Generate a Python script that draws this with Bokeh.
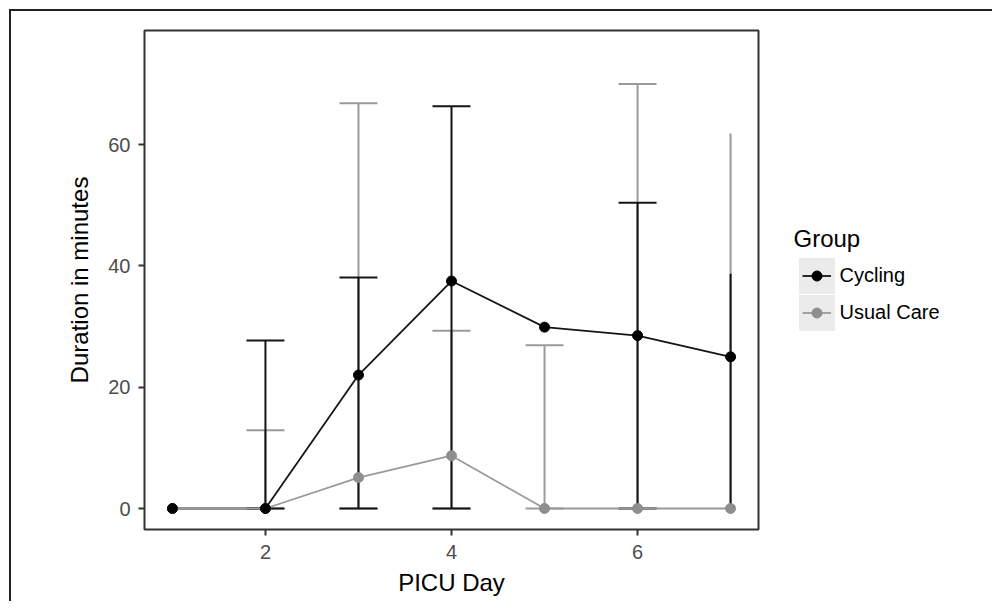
from bokeh.plotting import figure
from bokeh.layouts import row
from bokeh.models import (ColumnDataSource, Whisker, TeeHead, Legend, LegendItem,
                          FixedTicker)
from bokeh.embed import file_html
from bokeh.resources import INLINE

# ---- data ----
days = [1, 2, 3, 4, 5, 6, 7]
cycling_mean = [0, 0, 22.0, 37.5, 29.9, 28.5, 25.0]
cycling_lower = [0, 0, 0, 0, 29.9, 0, 0]
cycling_upper = [0, 27.7, 38.1, 66.3, 29.9, 50.4, 38.7]
usual_mean = [0, 0, 5.1, 8.7, 0, 0, 0]
usual_lower = [0, 0, 0, 0, 0, 0, 0]
usual_upper = [0, 12.9, 66.8, 29.3, 26.9, 70.0, 61.8]
uncapped_days = [7]
groups = ["Cycling", "Usual Care"]
x_ticks = [2, 4, 6]
y_ticks = [0, 20, 40, 60]

CYC = "#151515"
UC = "#9a9a9a"
UC_PT = "#8e8e8e"
KEY_BG = "#ebebeb"
FONT = "Liberation Sans"
H = 590

p = figure(width=759, height=H, x_range=(0.7, 7.3), y_range=(-3.46, 78.8),
           output_backend="svg", toolbar_location=None,
           min_border_left=133, min_border_right=12, min_border_top=19, min_border_bottom=72)
p.xgrid.visible = False
p.ygrid.visible = False
p.outline_line_color = "#333333"
p.outline_line_width = 2
p.background_fill_color = "white"
p.border_fill_color = "white"

p.xaxis.ticker = FixedTicker(ticks=x_ticks)
p.yaxis.ticker = FixedTicker(ticks=y_ticks)
for ax in (p.xaxis[0], p.yaxis[0]):
    ax.axis_line_color = None
    ax.major_tick_line_color = "#333333"
    ax.major_tick_line_width = 2
    ax.major_tick_in = 0
    ax.major_tick_out = 6
    ax.minor_tick_line_color = None
    ax.major_label_text_font = FONT
    ax.major_label_text_font_size = "20px"
    ax.major_label_text_color = "#4d4d4d"
    ax.major_label_standoff = 8
    ax.axis_label_text_font = FONT
    ax.axis_label_text_font_size = "24px"
    ax.axis_label_text_font_style = "normal"
    ax.axis_label_text_color = "#000000"
p.xaxis.axis_label = "PICU Day"
p.yaxis.axis_label = "Duration in minutes"
p.xaxis.major_label_standoff = 9
p.xaxis.axis_label_standoff = 7
p.yaxis.axis_label_standoff = 12


def add_whiskers(lower, upper, color, capped):
    d, lo, hi = [], [], []
    for day, l, h in zip(days, lower, upper):
        if h > l and ((day not in uncapped_days) == capped):
            d.append(day); lo.append(l); hi.append(h)
    if not d:
        return
    src = ColumnDataSource(dict(day=d, lo=lo, hi=hi))
    if capped:
        heads = dict(upper_head=TeeHead(size=38, line_color=color, line_width=2),
                     lower_head=TeeHead(size=38, line_color=color, line_width=2))
    else:
        heads = dict(upper_head=None, lower_head=None)
    p.add_layout(Whisker(source=src, base="day", lower="lo", upper="hi",
                         line_color=color, line_width=2, **heads))


add_whiskers(usual_lower, usual_upper, UC, True)
add_whiskers(usual_lower, usual_upper, UC, False)
add_whiskers(cycling_lower, cycling_upper, CYC, True)
add_whiskers(cycling_lower, cycling_upper, CYC, False)

p.line(days, cycling_mean, line_color=CYC, line_width=1.8)
p.line(days, usual_mean, line_color=UC, line_width=1.8)
p.scatter(days, usual_mean, size=10, fill_color=UC_PT, line_color=UC_PT)
p.scatter(days, cycling_mean, size=10, fill_color="#000000", line_color="#000000")

# ---- legend panel (separate canvas so that it is not clipped) ----
lf = figure(width=222, height=H, x_range=(0, 1), y_range=(0, 1),
            output_backend="svg", toolbar_location=None,
            x_axis_location=None, y_axis_location=None,
            min_border_left=0, min_border_right=0, min_border_top=0, min_border_bottom=0)
lf.outline_line_color = None
lf.xgrid.visible = False
lf.ygrid.visible = False
lf.background_fill_color = "white"
lf.border_fill_color = "white"

# hidden renderers: only their legend swatches are shown
k_bg = lf.quad(left=days[:1], right=days[:1], top=usual_mean[:1], bottom=usual_mean[:1],
               fill_color=KEY_BG, line_color=None)
k_lc = lf.line(days, cycling_mean, line_color=CYC, line_width=1.8)
k_sc = lf.scatter(days, cycling_mean, size=10, fill_color="#000000", line_color="#000000")
k_lu = lf.line(days, usual_mean, line_color=UC, line_width=1.8)
k_su = lf.scatter(days, usual_mean, size=10, fill_color=UC_PT, line_color=UC_PT)
for r in (k_bg, k_lc, k_sc, k_lu, k_su):
    r.visible = False

base = dict(padding=0, margin=0, border_line_color=None, background_fill_alpha=0,
            label_text_font=FONT, label_text_font_size="20px")

key1 = Legend(items=[LegendItem(label=" ", renderers=[k_bg])], location=(23.5, 231.5),
              title="Group", title_text_font=FONT, title_text_font_size="24px",
              title_text_font_style="normal", title_text_color="#000000", title_standoff=0,
              glyph_width=45, glyph_height=45, label_text_alpha=0, **base)
key2 = Legend(items=[LegendItem(label=" ", renderers=[k_bg])], location=(23.5, 194.5),
              glyph_width=45, glyph_height=45, label_text_alpha=0, **base)
keys = Legend(items=[LegendItem(label=groups[0], renderers=[k_lc, k_sc]),
                     LegendItem(label=groups[1], renderers=[k_lu, k_su])],
              location=(31.5, 204.5), glyph_width=29, glyph_height=25, spacing=12,
              label_standoff=9, label_text_color="#000000", **base)
lf.add_layout(key1)
lf.add_layout(key2)
lf.add_layout(keys)

layout = row(p, lf)
layout.styles = {"position": "relative", "left": "9px", "top": "9px",
                 "border-left": "2px solid #222222", "border-top": "2px solid #222222"}

open("out.html", "w").write(file_html(layout, INLINE))
